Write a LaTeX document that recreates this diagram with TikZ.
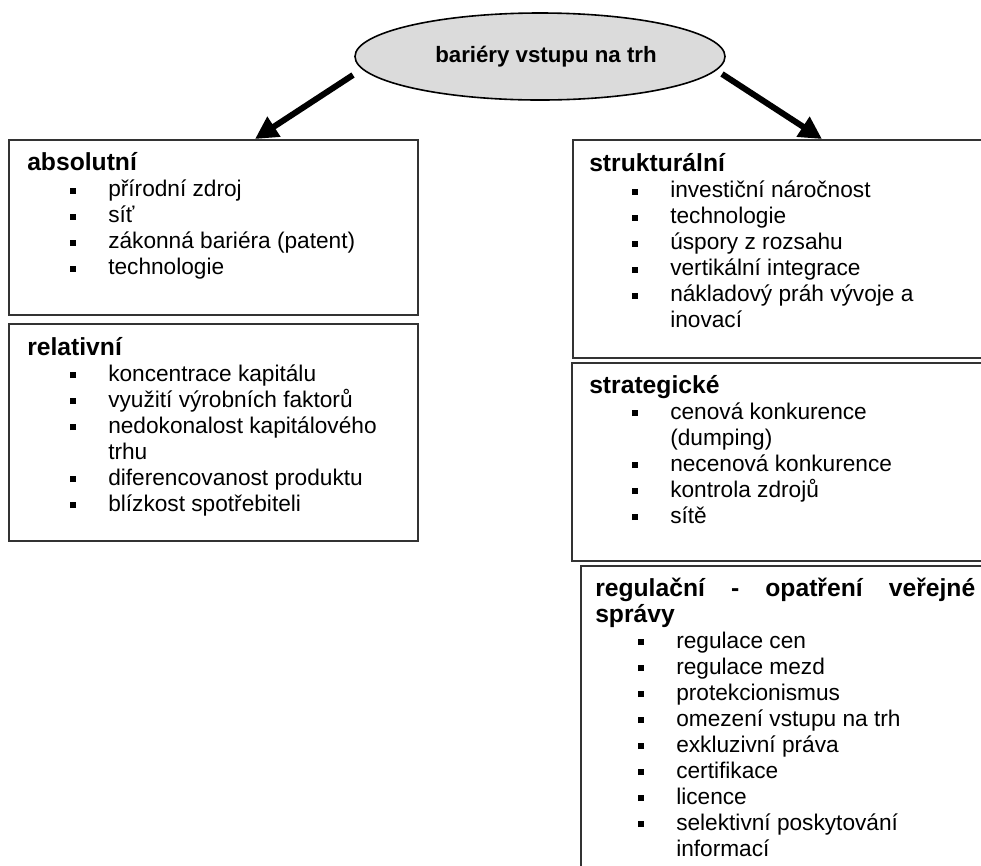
\documentclass[tikz,border=0pt]{standalone}
\usepackage{fontspec}
\setmainfont{Liberation Sans}
\usetikzlibrary{arrows.meta,calc,shapes.geometric}

\definecolor{framecol}{gray}{0.2}
\definecolor{ovalfill}{gray}{0.86}

% heading, bullet item and continuation line inside a panel
\newcommand\hd[1]{{\fontsize{18.5}{19.5}\selectfont\bfseries #1}}
\newcommand\itm[1]{\hspace*{32.25pt}\raisebox{2.2pt}{\rule{4.5pt}{4.5pt}}\hspace*{24pt}#1}
\newcommand\cont[1]{\hspace*{60.75pt}#1}
% a column of lines whose baseline is the first line
\newcommand\paneltext[1]{\vtop{\hsize=300pt\parindent=0pt\parskip=0pt
  \fontsize{17}{19.5}\selectfont\baselineskip=19.5pt
  \lineskiplimit=-20pt\lineskip=0pt\raggedright #1}}

\begin{document}
\begin{tikzpicture}[x=0.75pt,y=-0.75pt,
  panel/.style={draw=framecol,line width=1.5pt,anchor=north west,inner sep=0pt},
  paneltxt/.style={anchor=base west,inner sep=0pt},
  oval/.style={ellipse,draw=black,line width=1.2pt,fill=ovalfill,inner sep=0pt},
  bigarrow/.style={line width=4.5pt,-{Triangle[length=17pt,width=17pt]}}]

\useasboundingbox (0,0) rectangle (981,865);
\clip (0,0) rectangle (981,865);

% title oval
\node[oval,minimum width=277.5pt,minimum height=65.25pt] (ell) at (540,56.5)
  {\fontsize{16.7}{20}\selectfont\bfseries\hspace*{9pt}bariéry vstupu na trh};

% panels
\node[panel,minimum width=306.75pt,minimum height=131.25pt] (abs) at (8,139) {};
\node[panel,minimum width=306.75pt,minimum height=162.75pt] (rel) at (8,323) {};
\node[panel,minimum width=321pt,minimum height=163.5pt] (str) at (572,139) {};
\node[panel,minimum width=321.75pt,minimum height=148.5pt] (stg) at (571,362) {};
\node[panel,minimum width=315pt,minimum height=236.25pt] (reg) at (580,565) {};

% panel contents
\node[paneltxt] (abst) at (27,170.5) {\paneltext{%
  \hd{absolutní}\par
  \itm{přírodní zdroj}\par
  \itm{síť}\par
  \itm{zákonná bariéra (patent)}\par
  \itm{technologie}}};

\node[paneltxt] (relt) at (27,355) {\paneltext{%
  \hd{relativní}\par
  \itm{koncentrace kapitálu}\par
  \itm{využití výrobních faktorů}\par
  \itm{nedokonalost kapitálového}\par
  \cont{trhu}\par
  \itm{diferencovanost produktu}\par
  \itm{blízkost spotřebiteli}}};

\node[paneltxt] (strt) at (589,171.5) {\paneltext{%
  \hd{strukturální}\par
  \itm{investiční náročnost}\par
  \itm{technologie}\par
  \itm{úspory z rozsahu}\par
  \itm{vertikální integrace}\par
  \itm{nákladový práh vývoje a}\par
  \cont{inovací}}};

\node[paneltxt] (stgt) at (589,393) {\paneltext{%
  \hd{strategické}\par
  \itm{cenová konkurence}\par
  \cont{(dumping)}\par
  \itm{necenová konkurence}\par
  \itm{kontrola zdrojů}\par
  \itm{sítě}}};

\node[paneltxt] (regt) at (595,596) {\paneltext{%
  \hd{\makebox[285pt][s]{regulační\hfill-\hfill opatření\hfill veřejné}}\par
  \hd{správy}\par
  \itm{regulace cen}\par
  \itm{regulace mezd}\par
  \itm{protekcionismus}\par
  \itm{omezení vstupu na trh}\par
  \itm{exkluzivní práva}\par
  \itm{certifikace}\par
  \itm{licence}\par
  \itm{selektivní poskytování}\par
  \cont{informací}}};

% arrows from the oval down to the two columns
\coordinate (l0) at ($(ell.center)+(-187,18.5)$);
\coordinate (l1) at ($(abs.north west)+(247,0)$);
\coordinate (r0) at ($(ell.center)+(182,17.5)$);
\coordinate (r1) at ($(str.north west)+(250,0)$);
\draw[bigarrow] (l0) -- (l1);
\draw[bigarrow] (r0) -- (r1);
\end{tikzpicture}
\end{document}
